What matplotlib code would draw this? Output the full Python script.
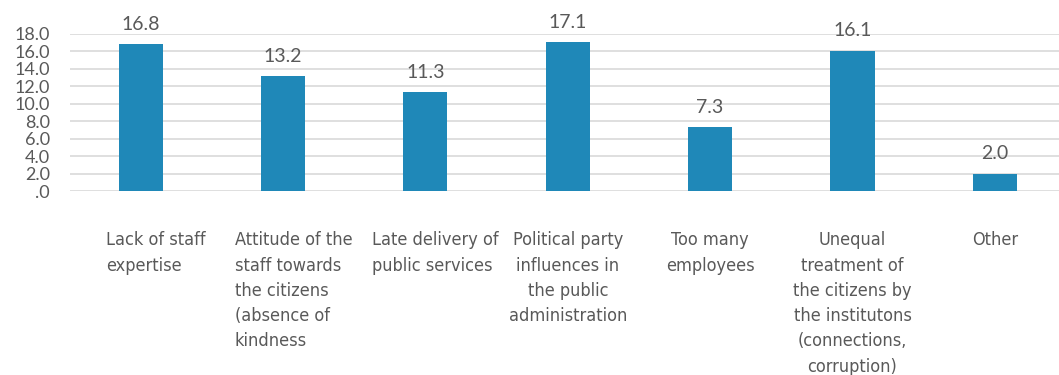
import matplotlib
matplotlib.use("Agg")
import matplotlib.pyplot as plt
from matplotlib.ticker import FixedLocator, FuncFormatter
from matplotlib import font_manager

categories = [
    "Lack of staff\nexpertise",
    "Attitude of the\nstaff towards\nthe citizens\n(absence of\nkindness",
    "Late delivery of\npublic services",
    "Political party\ninfluences in\nthe public\nadministration",
    "Too many\nemployees",
    "Unequal\ntreatment of\nthe citizens by\nthe institutons\n(connections,\ncorruption)",
    "Other",
]
values = [16.8, 13.2, 11.3, 17.1, 7.3, 16.1, 2.0]
yticks = [0, 2, 4, 6, 8, 10, 12, 14, 16, 18]

BAR = "#1F88B8"
TXT = "#595959"
GRID = "#D9D9D9"
NUM_FONT = ["Lato", "DejaVu Sans"]

names = {f.name for f in font_manager.fontManager.ttflist}
narrow = [f for f in font_manager.fontManager.ttflist
          if f.name == "DejaVu Sans" and f.stretch == "condensed" and f.style == "normal"]
if "Liberation Sans Narrow" in names:
    CAT_KW = dict(family="Liberation Sans Narrow", fontsize=14)
elif narrow:
    CAT_KW = dict(family="DejaVu Sans", stretch="condensed", fontsize=13)
else:
    CAT_KW = dict(family="DejaVu Sans", fontsize=12)

W, H = 1059, 375
fig = plt.figure(figsize=(W / 100, H / 100), dpi=100)
x0, x1, y0, y1 = 69.5, 1066, 191, 34
ax = fig.add_axes([x0 / W, 1 - y0 / H, (x1 - x0) / W, (y0 - y1) / H])

x = list(range(len(values)))
ax.bar(x, values, width=0.31, color=BAR, zorder=3)
ax.set_xlim(-0.5, len(values) - 0.5)
ax.set_ylim(0, 18)

ax.yaxis.set_major_locator(FixedLocator(yticks))
ax.yaxis.set_major_formatter(FuncFormatter(lambda v, p: ".0" if v == 0 else f"{v:.1f}"))
ax.grid(axis="y", color=GRID, linewidth=1.2, zorder=0)
ax.tick_params(axis="y", length=0, pad=14, labelsize=13, labelcolor=TXT)
for lab in ax.get_yticklabels():
    lab.set_family(NUM_FONT)
ax.set_xticks([])
for s in ax.spines.values():
    s.set_visible(False)

for xi, v in zip(x, values):
    ax.annotate(f"{v:.1f}", (xi, v), xytext=(0, 8), textcoords="offset points",
                ha="center", va="bottom", fontsize=14, color=TXT,
                family=NUM_FONT, annotation_clip=False)

# category labels under the axis
align = ["left", "left", "left", "center", "center", "center", "center"]
shift = [11, 7.5, 7.5, 0, 0, 0, 0]
for xi, lab, al, dx in zip(x, categories, align, shift):
    ax.annotate(lab, (xi, 0), xytext=(dx, -29), textcoords="offset points",
                ha="center", va="top", multialignment=al,
                linespacing=1.52, color=TXT, annotation_clip=False, **CAT_KW)

fig.savefig("out.png", dpi=100)
